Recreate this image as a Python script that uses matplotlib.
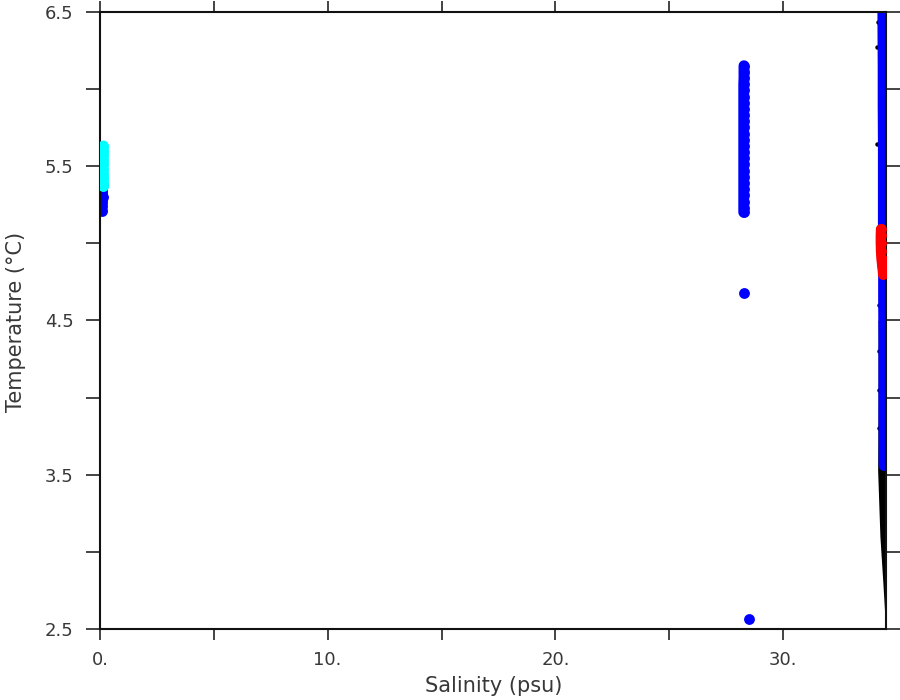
"""
T-S diagram: salinity vs temperature for the sampled stations.
"""

import matplotlib
matplotlib.use("Agg")
import matplotlib.pyplot as plt

# --- DATA ---
# fresh-water station, S ~ 0.1
fresh_blue_sal = [0.12, 0.10, 0.12, 0.10, 0.08, 0.10]
fresh_blue_temp = [5.38, 5.34, 5.30, 5.27, 5.24, 5.21]
fresh_cyan_sal = [0.15, 0.15, 0.15, 0.14, 0.14, 0.14, 0.14, 0.15, 0.15, 0.15]
fresh_cyan_temp = [5.63, 5.60, 5.57, 5.54, 5.51, 5.48, 5.45, 5.42, 5.39, 5.37]

# brackish station, S ~ 28.3
mid_sal = [28.28, 28.28, 28.28, 28.27, 28.27, 28.27, 28.27, 28.27, 28.27, 28.27,
           28.27, 28.27, 28.27, 28.27, 28.27, 28.27, 28.27, 28.27, 28.27, 28.27,
           28.27, 28.27, 28.27, 28.27, 28.27]
mid_temp = [6.15, 6.11, 6.07, 6.03, 5.99, 5.95, 5.91, 5.87, 5.83, 5.79,
            5.75, 5.71, 5.67, 5.63, 5.59, 5.55, 5.51, 5.47, 5.43, 5.39,
            5.35, 5.31, 5.27, 5.23, 5.20]
mid_out_sal = [28.27, 28.50]
mid_out_temp = [4.68, 2.565]

# ocean station, S ~ 34.4
ocean_blue_sal = [34.38, 34.38, 34.39, 34.39, 34.40, 34.40, 34.40, 34.41,
                  34.41, 34.42, 34.42, 34.42, 34.43, 34.43]
ocean_blue_temp = [6.60, 6.40, 6.15, 5.90, 5.65, 5.40, 5.15, 4.90,
                   4.65, 4.40, 4.15, 3.90, 3.70, 3.56]
ocean_red_sal = [34.31, 34.30, 34.30, 34.31, 34.33, 34.36, 34.39, 34.40]
ocean_red_temp = [5.09, 5.05, 5.00, 4.95, 4.90, 4.86, 4.82, 4.80]

# deep water, lower edge of the dense black trace
deep_temp = [2.50, 2.80, 3.10, 3.53, 4.00, 4.50]
deep_sal_lo = [34.50, 34.38, 34.25, 34.15, 34.17, 34.17]
deep_sal_hi = [34.60, 34.60, 34.60, 34.60, 34.60, 34.60]
deep_dot_sal = [34.11, 34.14, 34.16, 34.19, 34.20, 34.20, 34.21]
deep_dot_temp = [5.64, 6.27, 6.43, 4.60, 4.30, 4.05, 3.80]

# --- AXES ---
X_TICKS = [0, 5, 10, 15, 20, 25, 30]
X_LABELS = ["0.", "", "10.", "", "20.", "", "30."]
Y_TICKS = [2.5, 3.0, 3.5, 4.0, 4.5, 5.0, 5.5, 6.0, 6.5]
Y_LABELS = ["2.5", "", "3.5", "", "4.5", "", "5.5", "", "6.5"]

TXT = "#383838"
MS = 7.8  # marker diameter in points (~11 px)

fig = plt.figure(figsize=(9, 7), dpi=100)
ax = fig.add_axes([0.111, 0.1014, 0.8730, 0.8819])

# black deep-water trace
ax.fill_betweenx(deep_temp, deep_sal_lo, deep_sal_hi, color="black", lw=0, zorder=1)
ax.plot(deep_dot_sal, deep_dot_temp, "o", color="black", ms=3.2, mew=0, zorder=1)

# dense profiles drawn as fat round-capped traces
trace_kw = dict(lw=MS, marker="o", ms=MS, mew=0,
                solid_capstyle="round", solid_joinstyle="round")
ax.plot(ocean_blue_sal, ocean_blue_temp, color="blue", zorder=2, **trace_kw)
ax.plot(mid_sal, mid_temp, color="blue", zorder=2, **trace_kw)
ax.plot(fresh_blue_sal, fresh_blue_temp, color="blue", zorder=2, **trace_kw)
ax.plot(mid_out_sal, mid_out_temp, "o", color="blue", ms=MS, mew=0, zorder=2)

# highlighted samples
ax.plot(ocean_red_sal, ocean_red_temp, color="red", zorder=3, **trace_kw)
ax.plot(fresh_cyan_sal, fresh_cyan_temp, color="cyan", zorder=3, **trace_kw)

ax.set_xlim(0, 34.5)
ax.set_ylim(2.5, 6.5)

ax.set_xticks(X_TICKS)
ax.set_xticklabels(X_LABELS)
ax.set_yticks(Y_TICKS)
ax.set_yticklabels(Y_LABELS)

for s in ax.spines.values():
    s.set_linewidth(1.5)
    s.set_color("#111111")

ax.tick_params(axis="x", which="both", direction="out", length=8, width=1.1,
               top=True, bottom=True, labelsize=13, labelcolor=TXT, pad=8,
               color="#111111")
ax.tick_params(axis="y", which="both", direction="out", length=10, width=1.1,
               left=True, right=True, labelsize=13, labelcolor=TXT, pad=9,
               color="#111111")

ax.set_xlabel("Salinity (psu)", fontsize=15, color=TXT)
ax.set_ylabel("Temperature (°C)", fontsize=15, color=TXT)
ax.xaxis.set_label_coords(0.501, -0.076)
ax.yaxis.set_label_coords(-0.094, 0.497)

plt.savefig("out.png", dpi=100)
plt.close()
